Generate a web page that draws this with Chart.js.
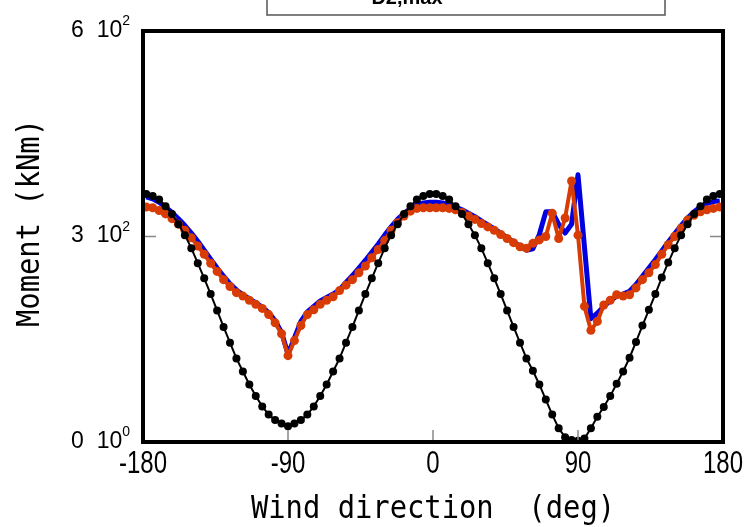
<!DOCTYPE html>
<html lang="en">
<head>
  <meta charset="UTF-8">
  <title>Moment vs wind direction</title>
  <script src="https://cdn.jsdelivr.net/npm/chart.js"></script>
  <style>
    body {
      margin: 0;
      padding: 0;
      background-color: #fff;
    }
    #momentChart {
      display: block;
    }
  </style>
</head>
<body>
  <canvas id="momentChart" width="745" height="527"></canvas>

  <script>
    // Wind directions (deg)
    const angles = [
      -178, -174, -170, -166, -162, -158, -154, -150, -146, -142,
      -138, -134, -130, -126, -122, -118, -114, -110, -106, -102,
      -98, -94, -90, -86, -82, -78, -74, -70, -66, -62,
      -58, -54, -50, -46, -42, -38, -34, -30, -26, -22,
      -18, -14, -10, -6, -2, 2, 6, 10, 14, 18,
      22, 26, 30, 34, 38, 42, 46, 50, 54, 58,
      62, 66, 70, 74, 78, 82, 86, 90, 94, 98,
      102, 106, 110, 114, 118, 122, 126, 130, 134, 138,
      142, 146, 150, 154, 158, 162, 166, 170, 174, 178
    ];

    // Black series (dots)
    const momentBlack = [
      362, 359, 354, 344, 333, 318, 302, 283, 261, 239,
      216, 192, 168, 145, 122, 103, 84, 67, 52, 40,
      32, 27, 23, 27, 32, 40, 52, 67, 84, 103,
      122, 145, 168, 192, 216, 239, 261, 283, 302, 318,
      333, 344, 354, 359, 362, 362, 359, 354, 344, 333,
      318, 302, 283, 261, 239, 216, 192, 168, 145, 122,
      104, 84, 62, 40, 20, 7, 3, 2, 5, 20,
      37, 51, 67, 85, 103, 123, 146, 170, 193, 216,
      240, 262, 283, 302, 318, 333, 344, 354, 359, 362
    ];

    // Red series (dots)
    const momentRed = [
      343, 342, 338, 333, 326, 318, 309, 298, 286, 274,
      261, 249, 237, 227, 218, 213, 207, 201, 195, 186,
      174, 158, 126, 148, 170, 186, 193, 201, 207, 212,
      221, 229, 237, 247, 257, 269, 281, 294, 309, 320,
      330, 337, 341, 342, 342, 342, 342, 341, 339, 335,
      330, 325, 319, 314, 309, 303, 297, 291, 285, 283,
      290, 295, 300, 334, 297, 327, 381, 302, 198, 163,
      176, 200, 207, 215, 213, 215, 225, 237, 247, 259,
      274, 288, 300, 312, 324, 331, 336, 339, 341, 343
    ];

    // Blue series (line only)
    const momentBlue = [
      358, 355, 350, 343, 335, 326, 316, 305, 293, 280,
      267, 254, 242, 231, 222, 215, 209, 203, 197, 189,
      177, 160, 128, 152, 176, 190, 198, 206, 211, 216,
      222, 233, 243, 254, 265, 277, 289, 302, 314, 325,
      334, 341, 346, 349, 350, 350, 349, 346, 343, 339,
      334, 329, 323, 317, 311, 305, 298, 292, 286, 280,
      282, 303, 336, 336, 318, 305, 318, 390, 285, 180,
      188, 198, 206, 213, 216, 220, 230, 242, 254, 266,
      279, 292, 304, 316, 327, 336, 343, 348, 351, 352
    ];

    // Axis ticks and titles
    const xTickValues = [-180, -90, 0, 90, 180];
    const xTickLabels = ['-180', '-90', '0', '90', '180'];
    const yTickValues = [0, 300, 600];
    const yTickMantissa = ['0', '3', '6'];
    const yTickExponent = ['0', '2', '2'];
    const xInnerTicks = [-90, 0, 90];
    const yInnerTicks = [300];
    const xTitle = 'Wind direction  (deg)';
    const yTitle = 'Moment (kNm)';

    const toPoints = vals => angles.map((a, i) => ({ x: a, y: vals[i] }));

    // Frame, inner tick marks, tick labels, titles and the clipped legend box
    const framePlugin = {
      id: 'frame',
      afterDraw(chart) {
        const { ctx, chartArea: a, scales: { x, y } } = chart;
        ctx.save();
        ctx.strokeStyle = '#888';
        ctx.lineWidth = 1.5;
        xInnerTicks.forEach(v => {
          const px = x.getPixelForValue(v);
          ctx.beginPath();
          ctx.moveTo(px, a.bottom);
          ctx.lineTo(px, a.bottom - 12);
          ctx.stroke();
        });
        yInnerTicks.forEach(v => {
          const py = y.getPixelForValue(v);
          ctx.beginPath();
          ctx.moveTo(a.left, py);
          ctx.lineTo(a.left + 13, py);
          ctx.moveTo(a.right, py);
          ctx.lineTo(a.right - 13, py);
          ctx.stroke();
        });

        ctx.strokeStyle = '#000';
        ctx.lineWidth = 4;
        ctx.strokeRect(a.left, a.top, a.right - a.left, a.bottom - a.top);

        ctx.fillStyle = '#000';
        ctx.textBaseline = 'alphabetic';

        // x tick labels, narrow face
        ctx.font = '32px "Liberation Sans", Arial, sans-serif';
        ctx.textAlign = 'center';
        xTickValues.forEach((v, i) => {
          const px = x.getPixelForValue(v);
          ctx.save();
          ctx.translate(px, 473);
          ctx.scale(0.75, 1);
          ctx.fillText(xTickLabels[i], 0, 0);
          ctx.restore();
        });

        // y tick labels with a superscript exponent
        ctx.textAlign = 'left';
        yTickValues.forEach((v, i) => {
          const py = y.getPixelForValue(v) + 5.5;
          ctx.font = '14px "Liberation Sans", Arial, sans-serif';
          const sup = yTickExponent[i];
          const wSup = ctx.measureText(sup).width;
          ctx.font = '23px "Liberation Sans", Arial, sans-serif';
          const base = yTickMantissa[i] + '  10';
          const wBase = ctx.measureText(base).width;
          const right = a.left - 13;
          ctx.fillText(base, right - wSup - wBase, py);
          ctx.font = '14px "Liberation Sans", Arial, sans-serif';
          ctx.fillText(sup, right - wSup, py - 11.5);
        });

        // axis titles, tall monospace
        ctx.font = '32px "DejaVu Sans Mono", monospace';
        ctx.textAlign = 'center';
        ctx.save();
        ctx.translate((a.left + a.right) / 2, 518);
        ctx.scale(0.9, 1);
        ctx.fillText(xTitle, 0, 0);
        ctx.restore();

        ctx.save();
        ctx.translate(39, 223);
        ctx.rotate(-Math.PI / 2);
        ctx.scale(0.9, 1);
        ctx.fillText(yTitle, 0, 0);
        ctx.restore();

        // legend box (mostly outside the picture)
        ctx.strokeStyle = '#555';
        ctx.lineWidth = 1.5;
        ctx.strokeRect(267, -30, 398, 45);
        ctx.font = 'bold 20px "Liberation Sans", Arial, sans-serif';
        ctx.fillText('D2,max', 407, 4);
        ctx.restore();
      }
    };

    new Chart(document.getElementById('momentChart'), {
      type: 'line',
      data: {
        datasets: [
          {
            label: 'black',
            data: toPoints(momentBlack),
            borderColor: '#000',
            backgroundColor: '#000',
            borderWidth: 2,
            pointRadius: 4,
            pointBorderWidth: 0,
            tension: 0
          },
          {
            label: 'red',
            data: toPoints(momentRed),
            borderColor: '#d83c04',
            backgroundColor: '#d83c04',
            borderWidth: 4,
            borderJoinStyle: 'round',
            pointRadius: 4.5,
            pointBorderWidth: 0,
            tension: 0
          },
          {
            label: 'blue',
            data: toPoints(momentBlue),
            borderColor: '#0000e0',
            backgroundColor: '#0000e0',
            borderWidth: 5,
            borderJoinStyle: 'round',
            pointRadius: 0,
            tension: 0
          }
        ]
      },
      options: {
        responsive: false,
        animation: false,
        devicePixelRatio: 1,
        layout: { padding: { top: 31, right: 22, left: 0, bottom: 0 } },
        plugins: {
          legend: { display: false },
          tooltip: { enabled: false }
        },
        scales: {
          x: {
            type: 'linear',
            min: -180,
            max: 180,
            afterBuildTicks: s => { s.ticks = xTickValues.map(v => ({ value: v })); },
            afterFit: s => { s.height = 85; },
            grid: { display: false, drawTicks: false },
            border: { display: false },
            ticks: { display: false }
          },
          y: {
            min: 0,
            max: 600,
            afterBuildTicks: s => { s.ticks = yTickValues.map(v => ({ value: v })); },
            afterFit: s => { s.width = 143; },
            grid: { display: false, drawTicks: false },
            border: { display: false },
            ticks: { display: false }
          }
        }
      },
      plugins: [framePlugin]
    });
  </script>
</body>
</html>
